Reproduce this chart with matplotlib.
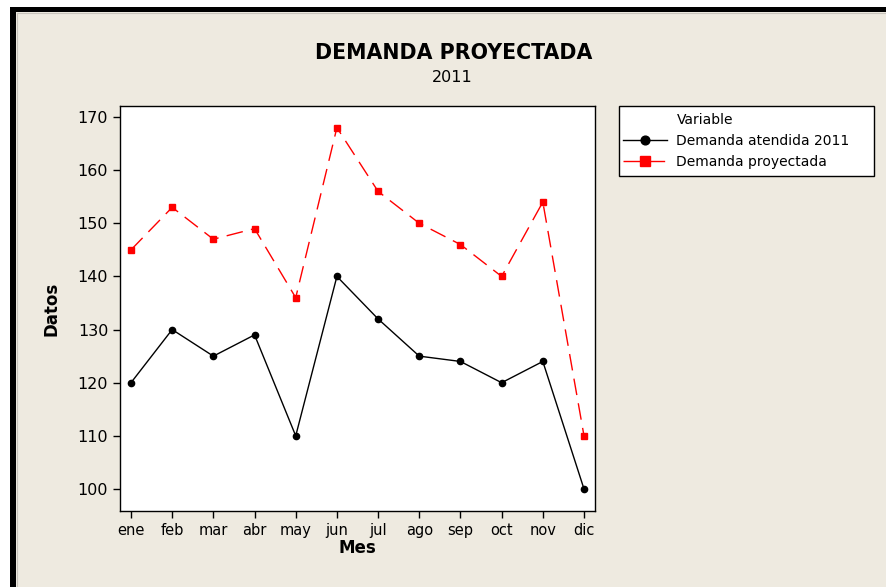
import matplotlib.pyplot as plt
from matplotlib.patches import Rectangle
from matplotlib.lines import Line2D

meses = ['ene', 'feb', 'mar', 'abr', 'may', 'jun', 'jul', 'ago', 'sep', 'oct', 'nov', 'dic']
atendida = [120, 130, 125, 129, 110, 140, 132, 125, 124, 120, 124, 100]
proyectada = [145, 153, 147, 149, 136, 168, 156, 150, 146, 140, 154, 110]
yticks = [100, 110, 120, 130, 140, 150, 160, 170]

W, H = 886, 587
bg = '#eeeae0'
fig = plt.figure(figsize=(W / 100, H / 100), dpi=100, facecolor='white')

# frame: white margin, thick black band top/left, beige panel
fig.patches.append(Rectangle((10 / W, 0), 1 - 10 / W, 1 - 7 / H, transform=fig.transFigure,
                             facecolor='black', edgecolor='none', zorder=-3))
fig.patches.append(Rectangle((16 / W, 0), 1 - 16 / W, 1 - 12 / H, transform=fig.transFigure,
                             facecolor=bg, edgecolor='none', zorder=-2))
fig.lines.append(Line2D([17 / W, 1], [1 - 13 / H, 1 - 13 / H], transform=fig.transFigure,
                        color='#c8c4bc', lw=0.8))
fig.lines.append(Line2D([17 / W, 17 / W], [0, 1 - 13 / H], transform=fig.transFigure,
                        color='#c8c4bc', lw=0.8))

ax = fig.add_axes([120 / W, 1 - 511 / H, 475 / W, 405 / H])
ax.set_facecolor('white')
x = list(range(len(meses)))
ax.plot(x, atendida, color='black', lw=1, marker='o', ms=4.5, label='Demanda atendida 2011')
ax.plot(x, proyectada, color='red', lw=1, ls=(0, (12, 6)), marker='s', ms=5,
        label='Demanda proyectada')

ax.set_xlim(-0.267, 11.267)
ax.set_ylim(95.86, 172.07)
ax.set_xticks(x)
ax.set_xticklabels(meses)
ax.set_yticks(yticks)
ax.tick_params(direction='out', length=5, width=1, labelsize=11.5, colors='black')
ax.tick_params(axis='x', labelsize=10.5)
for s in ax.spines.values():
    s.set_linewidth(1)
    s.set_color('black')
ax.set_xlabel('Mes', fontsize=12, fontweight='bold', labelpad=1)
ax.set_ylabel('Datos', fontsize=12, fontweight='bold', labelpad=12)

fig.text(454 / W, 1 - 53 / H, 'DEMANDA PROYECTADA', ha='center', va='center',
         fontsize=14.8, fontweight='bold')
fig.text(452 / W, 1 - 78 / H, '2011', ha='center', va='center', fontsize=11.5)

# legend box
fig.patches.append(Rectangle((619 / W, 1 - 176 / H), 255 / W, 70 / H, transform=fig.transFigure,
                             facecolor='white', edgecolor='black', lw=1))
fig.text(677 / W, 1 - 120 / H, 'Variable', ha='left', va='center', fontsize=10)
h, l = ax.get_legend_handles_labels()
leg = fig.legend(h, l, loc='upper left', bbox_to_anchor=(623 / W, 1 - 134 / H),
                 frameon=False, fontsize=10, markerscale=1.4,
                 handlelength=3.15, handletextpad=0.7, borderpad=0.0, borderaxespad=0.0,
                 labelspacing=0.5)

fig.savefig('out.png', dpi=100, facecolor=fig.get_facecolor())
